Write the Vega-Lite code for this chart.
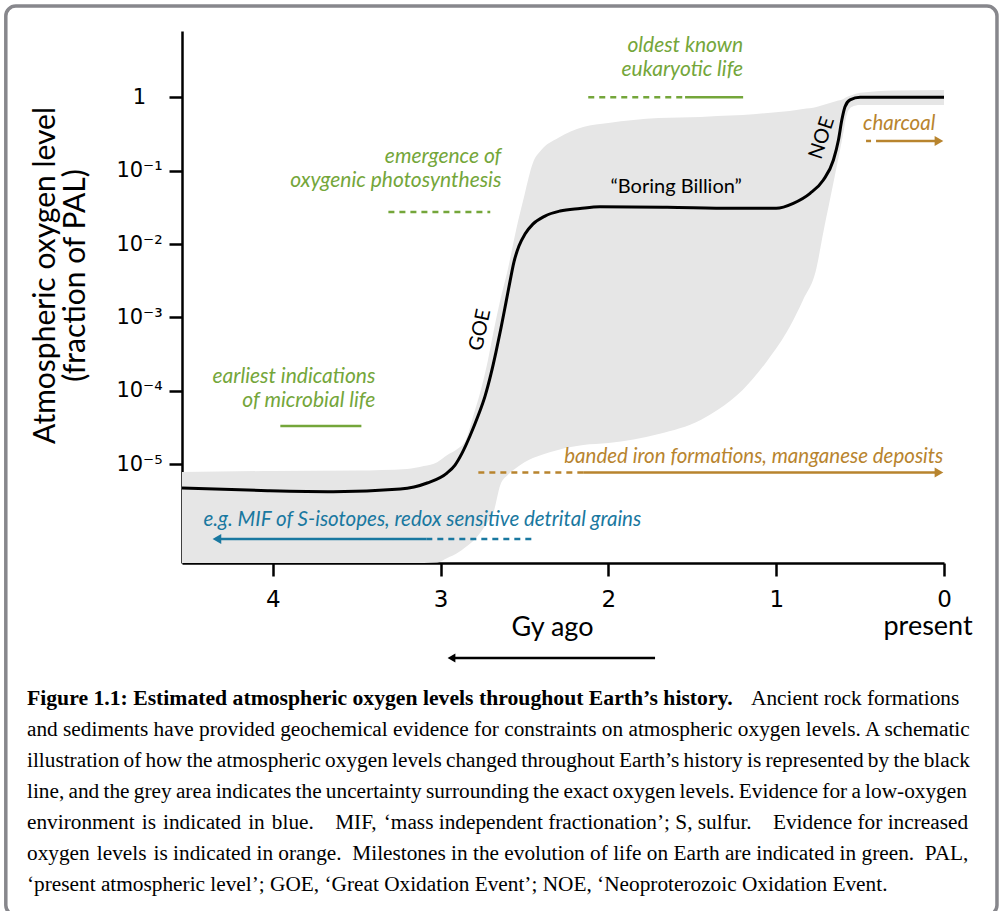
{
  "$schema": "https://vega.github.io/schema/vega-lite/v6.json",
  "width": 762,
  "height": 532,
  "autosize": {"type": "none"},
  "padding": {"left": 182, "top": 31, "right": 55, "bottom": 348},
  "background": "white",
  "config": {"view": {"stroke": null}},
  "title": {
    "text": "Figure 1.1: Estimated atmospheric oxygen levels throughout Earth’s history.",
    "subtitle": [
      "\u200b\u2003\u2003\u2003\u2003\u2003\u2003\u2003\u2003\u2003\u2003\u2003\u2003\u2003\u2003\u2003\u2003\u2003\u2003\u2003\u2003\u2003\u2003\u2003\u2003\u2003\u2003\u2003\u2003\u2003\u2003\u2003\u2003\u2003\u2003Ancient rock formations",
      "and sediments have provided geochemical evidence for constraints on atmospheric oxygen levels. A schematic",
      "illustration\u2009of\u2009how\u2009the\u2009atmospheric\u2009oxygen\u2009levels\u2009changed\u2009throughout\u2009Earth’s\u2009history\u2009is\u2009represented\u2009by\u2009the\u2009black",
      "line,\u2009and\u2009the\u2009grey\u2009area\u2009indicates\u2009the\u2009uncertainty\u2009surrounding\u2009the\u2009exact\u2009oxygen\u2009levels.\u2009Evidence\u2009for\u2009a\u2009low-oxygen",
      "environment\u2004is\u2004indicated\u2004in\u2004blue.\u2002\u2002MIF,\u2004‘mass independent fractionation’; S, sulfur.\u2002\u2002Evidence for increased",
      "oxygen\u2004levels\u2004is indicated in orange.\u2002Milestones in the evolution of life on Earth are indicated in green.\u2002PAL,",
      "‘present atmospheric level’; GOE, ‘Great Oxidation Event’; NOE, ‘Neoproterozoic Oxidation Event."
    ],
    "orient": "bottom",
    "anchor": "start",
    "frame": "group",
    "dx": -155,
    "offset": -229,
    "font": "Liberation Serif",
    "fontSize": 21.7,
    "fontWeight": "bold",
    "color": "black",
    "subtitleFont": "Liberation Serif",
    "subtitleFontSize": 21.3,
    "subtitleFontWeight": "normal",
    "subtitleColor": "black",
    "subtitleLineHeight": 31,
    "subtitlePadding": -21.7
  },
  "datasets": {
    "curve": [
      {"age": 0, "o2": 1.0},
      {"age": 0.25, "o2": 1.0},
      {"age": 0.5, "o2": 1.0},
      {"age": 0.56, "o2": 0.92},
      {"age": 0.59, "o2": 0.745},
      {"age": 0.609, "o2": 0.49},
      {"age": 0.629, "o2": 0.262},
      {"age": 0.659, "o2": 0.14},
      {"age": 0.719, "o2": 0.0746},
      {"age": 0.798, "o2": 0.0492},
      {"age": 0.898, "o2": 0.036},
      {"age": 1.0, "o2": 0.0308},
      {"age": 1.26, "o2": 0.0308},
      {"age": 1.65, "o2": 0.0317},
      {"age": 2.05, "o2": 0.0322},
      {"age": 2.169, "o2": 0.0305},
      {"age": 2.288, "o2": 0.0282},
      {"age": 2.378, "o2": 0.0241},
      {"age": 2.45, "o2": 0.0187},
      {"age": 2.497, "o2": 0.0137},
      {"age": 2.533, "o2": 0.0094},
      {"age": 2.563, "o2": 0.00569},
      {"age": 2.586, "o2": 0.00313},
      {"age": 2.61, "o2": 0.00162},
      {"age": 2.64, "o2": 0.000718},
      {"age": 2.67, "o2": 0.000338},
      {"age": 2.7, "o2": 0.000169},
      {"age": 2.735, "o2": 0.0000849},
      {"age": 2.777, "o2": 0.0000454},
      {"age": 2.825, "o2": 0.0000243},
      {"age": 2.872, "o2": 0.0000142},
      {"age": 2.914, "o2": 0.00000977},
      {"age": 2.962, "o2": 0.0000076},
      {"age": 3.08, "o2": 0.00000556},
      {"age": 3.24, "o2": 0.0000046},
      {"age": 3.64, "o2": 0.00000424},
      {"age": 4.03, "o2": 0.00000437},
      {"age": 4.541, "o2": 0.00000475}
    ],
    "band": [
      {"age": 0, "o2": 1.26, "o2_low": 0.785},
      {"age": 0.3, "o2": 1.24, "o2_low": 0.785},
      {"age": 0.5, "o2": 1.15, "o2_low": 0.785},
      {"age": 0.55, "o2": 1.07, "o2_low": 0.738},
      {"age": 0.58, "o2": 1.01, "o2_low": 0.574},
      {"age": 0.6, "o2": 0.948, "o2_low": 0.327},
      {"age": 0.64, "o2": 0.891, "o2_low": 0.112},
      {"age": 0.68, "o2": 0.836, "o2_low": 0.0399},
      {"age": 0.72, "o2": 0.785, "o2_low": 0.0142},
      {"age": 0.76, "o2": 0.738, "o2_low": 0.00472},
      {"age": 0.84, "o2": 0.692, "o2_low": 0.00173},
      {"age": 0.92, "o2": 0.65, "o2_low": 0.000743},
      {"age": 1.05, "o2": 0.611, "o2_low": 0.000264},
      {"age": 1.2, "o2": 0.574, "o2_low": 0.000103},
      {"age": 1.35, "o2": 0.556, "o2_low": 0.000055},
      {"age": 1.45, "o2": 0.54, "o2_low": 0.0000402},
      {"age": 1.7, "o2": 0.522, "o2_low": 0.0000259},
      {"age": 2.0, "o2": 0.447, "o2_low": 0.0000195},
      {"age": 2.15, "o2": 0.394, "o2_low": 0.0000183},
      {"age": 2.3, "o2": 0.279, "o2_low": 0.0000157},
      {"age": 2.4, "o2": 0.191, "o2_low": 0.0000134},
      {"age": 2.45, "o2": 0.127, "o2_low": 0.0000122},
      {"age": 2.5, "o2": 0.0467, "o2_low": 0.0000107},
      {"age": 2.55, "o2": 0.0156, "o2_low": 0.00000891},
      {"age": 2.6, "o2": 0.00444, "o2_low": 0.00000714},
      {"age": 2.644, "o2": 0.00174, "o2_low": 0.00000522},
      {"age": 2.686, "o2": 0.000615, "o2_low": 0.00000217},
      {"age": 2.72, "o2": 0.000248, "o2_low": 0.00000164},
      {"age": 2.76, "o2": 0.000103, "o2_low": 0.0000012},
      {"age": 2.8, "o2": 0.00005, "o2_low": 0.000000929},
      {"age": 2.85, "o2": 0.0000214, "o2_low": 0.000000746},
      {"age": 2.9, "o2": 0.0000161, "o2_low": 0.000000618},
      {"age": 2.96, "o2": 0.0000134, "o2_low": 0.000000528},
      {"age": 3.02, "o2": 0.0000107, "o2_low": 0.000000459},
      {"age": 3.1, "o2": 0.00000948, "o2_low": 0.000000452},
      {"age": 3.2, "o2": 0.00000863, "o2_low": 0.000000452},
      {"age": 3.5, "o2": 0.00000822, "o2_low": 0.000000452},
      {"age": 4.0, "o2": 0.00000811, "o2_low": 0.000000452},
      {"age": 4.541, "o2": 0.00000785, "o2_low": 0.000000452}
    ],
    "spans": [
      {"kind": "life", "evidence": "tentative", "age": 2.12, "age_end": 1.543, "o2": 1.0},
      {"kind": "life", "evidence": "established", "age": 1.543, "age_end": 1.197, "o2": 1.0},
      {"kind": "life", "evidence": "tentative", "age": 3.311, "age_end": 2.704, "o2": 0.0274},
      {"kind": "life", "evidence": "established", "age": 3.955, "age_end": 3.472, "o2": 0.0000333},
      {"kind": "oxic", "evidence": "tentative", "age": 0.4646, "age_end": 0.4348, "o2": 0.254},
      {"kind": "oxic", "evidence": "established", "age": 0.405, "age_end": 0.03, "o2": 0.254},
      {"kind": "oxic", "evidence": "tentative", "age": 2.775, "age_end": 2.15, "o2": 0.00000773},
      {"kind": "oxic", "evidence": "established", "age": 2.15, "age_end": 0.03, "o2": 0.00000773},
      {"kind": "anoxic", "evidence": "established", "age": 4.333, "age_end": 3.085, "o2": 0.00000096},
      {"kind": "anoxic", "evidence": "tentative", "age": 3.085, "age_end": 2.454, "o2": 0.00000096}
    ],
    "heads": [
      {"kind": "oxic", "direction": "toward present", "age": 0.03, "o2": 0.254},
      {"kind": "oxic", "direction": "toward present", "age": 0.03, "o2": 0.00000773},
      {"kind": "anoxic", "direction": "toward past", "age": 4.333, "o2": 0.00000096}
    ],
    "notes": [
      {"kind": "life", "text": "oldest known\neukaryotic life", "age": 1.197, "o2": 5.0},
      {"kind": "life", "text": "emergence of\noxygenic photosynthesis", "age": 2.638, "o2": 0.1537},
      {"kind": "life", "text": "earliest indications\nof microbial life", "age": 3.389, "o2": 0.0001546},
      {"kind": "oxic", "text": "charcoal", "age": 0.482, "o2": 0.431},
      {"kind": "oxic", "text": "banded iron formations, manganese deposits", "age": 2.263, "o2": 0.0000126},
      {"kind": "anoxic", "text": "e.g. MIF of S-isotopes, redox sensitive detrital grains", "age": 4.413, "o2": 0.00000174},
      {"kind": "event", "text": "“Boring Billion”", "age": 1.596, "o2": 0.06},
      {"kind": "event", "text": "GOE", "age": 2.764, "o2": 0.000676},
      {"kind": "event", "text": "NOE", "age": 0.727, "o2": 0.279}
    ]
  },
  "layer": [
    {
      "data": {"name": "band"},
      "mark": {"type": "area", "color": "#e6e6e6", "interpolate": "monotone"},
      "encoding": {
        "x": {
          "field": "age",
          "type": "quantitative",
          "scale": {"domain": [0, 4.541], "reverse": true, "nice": false, "zero": false},
          "axis": {
            "values": [0, 1, 2, 3, 4],
            "format": "d",
            "title": "Gy ago",
            "grid": false,
            "domainColor": "black",
            "domainWidth": 2.5,
            "tickColor": "black",
            "tickWidth": 2.5,
            "tickSize": 13,
            "labelFont": "DejaVu Sans",
            "labelFontSize": 23,
            "labelColor": "black",
            "labelPadding": 12,
            "labelFlush": false,
            "labelOverlap": false,
            "titleFont": "Lato",
            "titleFontSize": 27,
            "titleFontWeight": "normal",
            "titleColor": "black",
            "titleX": 370,
            "titleY": 64,
            "titleBaseline": "middle",
            "titleAlign": "center"
          }
        },
        "y": {
          "field": "o2",
          "type": "quantitative",
          "scale": {"type": "log", "domain": [0.000000452, 8.0], "nice": false},
          "axis": {
            "values": [0.00001, 0.0001, 0.001, 0.01, 0.1, 1],
            "labelExpr": "datum.value >= 0.5 ? '1' : '10⁻' + ['⁰','¹','²','³','⁴','⁵','⁶'][round(-log(datum.value)/LN10)]",
            "title": ["Atmospheric oxygen level", "(fraction of PAL)"],
            "grid": false,
            "domainColor": "black",
            "domainWidth": 2.5,
            "tickColor": "black",
            "tickWidth": 2.5,
            "tickSize": 13,
            "labelFont": "DejaVu Sans",
            "labelFontSize": 21,
            "labelColor": "black",
            "labelAlign": "center",
            "labelBaseline": "middle",
            "labelPadding": 30,
            "labelOverlap": false,
            "titleFont": "Lato",
            "titleFontSize": 30,
            "titleFontWeight": "normal",
            "titleColor": "black",
            "titleAngle": -90,
            "titleX": -137,
            "titleY": 244,
            "titleAlign": "center",
            "titleBaseline": "middle",
            "titleLineHeight": 30
          }
        },
        "y2": {"field": "o2_low"}
      }
    },
    {
      "data": {"values": [{"part": "figure frame"}]},
      "mark": {"type": "rect", "fill": "transparent", "stroke": "#87878c", "strokeWidth": 3.5, "cornerRadius": 10, "clip": false},
      "encoding": {
        "x": {"datum": 5.591, "type": "quantitative"},
        "x2": {"datum": -0.3157},
        "y": {"datum": 17.53, "type": "quantitative"},
        "y2": {"datum": 0.0000000000072}
      }
    },
    {
      "data": {"name": "curve"},
      "mark": {"type": "line", "color": "black", "strokeWidth": 3, "interpolate": "monotone"},
      "encoding": {
        "x": {"field": "age", "type": "quantitative"},
        "y": {"field": "o2", "type": "quantitative"}
      }
    },
    {
      "data": {"name": "spans"},
      "mark": {"type": "rule", "strokeWidth": 2.5},
      "encoding": {
        "x": {"field": "age", "type": "quantitative"},
        "x2": {"field": "age_end"},
        "y": {"field": "o2", "type": "quantitative"},
        "color": {"field": "kind", "type": "nominal", "scale": {"domain": ["life", "oxic", "anoxic", "event"], "range": ["#74a63a", "#b8842e", "#1978a0", "#000000"]}, "legend": null},
        "strokeDash": {"field": "evidence", "type": "nominal", "scale": {"domain": ["established", "tentative"], "range": [[1, 0], [6, 5]]}, "legend": null}
      }
    },
    {
      "data": {"name": "heads"},
      "mark": {"type": "point", "filled": true, "size": 100, "opacity": 1},
      "encoding": {
        "x": {"field": "age", "type": "quantitative"},
        "y": {"field": "o2", "type": "quantitative"},
        "color": {"field": "kind", "type": "nominal", "scale": {"domain": ["life", "oxic", "anoxic", "event"], "range": ["#74a63a", "#b8842e", "#1978a0", "#000000"]}, "legend": null},
        "shape": {"field": "direction", "type": "nominal", "scale": {"domain": ["toward present", "toward past"], "range": ["triangle-right", "triangle-left"]}, "legend": null}
      }
    },
    {
      "data": {"name": "notes"},
      "transform": [{"filter": "datum.kind == 'life'"}],
      "mark": {"type": "text", "align": "right", "baseline": "middle", "font": "Lato", "fontStyle": "italic", "fontSize": 21, "lineBreak": "\n", "lineHeight": 24.5},
      "encoding": {
        "x": {"field": "age", "type": "quantitative"},
        "y": {"field": "o2", "type": "quantitative"},
        "text": {"field": "text"},
        "color": {"field": "kind", "type": "nominal", "scale": {"domain": ["life", "oxic", "anoxic", "event"], "range": ["#74a63a", "#b8842e", "#1978a0", "#000000"]}, "legend": null}
      }
    },
    {
      "data": {"name": "notes"},
      "transform": [{"filter": "datum.kind == 'oxic'"}],
      "mark": {"type": "text", "align": "left", "baseline": "middle", "font": "Lato", "fontStyle": "italic", "fontSize": 20.5},
      "encoding": {
        "x": {"field": "age", "type": "quantitative"},
        "y": {"field": "o2", "type": "quantitative"},
        "text": {"field": "text"},
        "color": {"field": "kind", "type": "nominal", "scale": {"domain": ["life", "oxic", "anoxic", "event"], "range": ["#74a63a", "#b8842e", "#1978a0", "#000000"]}, "legend": null}
      }
    },
    {
      "data": {"name": "notes"},
      "transform": [{"filter": "datum.kind == 'anoxic'"}],
      "mark": {"type": "text", "align": "left", "baseline": "middle", "font": "Lato", "fontStyle": "italic", "fontSize": 20.5},
      "encoding": {
        "x": {"field": "age", "type": "quantitative"},
        "y": {"field": "o2", "type": "quantitative"},
        "text": {"field": "text"},
        "color": {"field": "kind", "type": "nominal", "scale": {"domain": ["life", "oxic", "anoxic", "event"], "range": ["#74a63a", "#b8842e", "#1978a0", "#000000"]}, "legend": null}
      }
    },
    {
      "data": {"name": "notes"},
      "transform": [{"filter": "datum.text == '“Boring Billion”'"}],
      "mark": {"type": "text", "align": "center", "baseline": "middle", "font": "Lato", "fontSize": 20, "color": "black"},
      "encoding": {
        "x": {"field": "age", "type": "quantitative"},
        "y": {"field": "o2", "type": "quantitative"},
        "text": {"field": "text"}
      }
    },
    {
      "data": {"name": "notes"},
      "transform": [{"filter": "datum.text == 'GOE'"}],
      "mark": {"type": "text", "align": "center", "baseline": "middle", "font": "Lato", "fontSize": 20, "color": "black", "angle": -78},
      "encoding": {
        "x": {"field": "age", "type": "quantitative"},
        "y": {"field": "o2", "type": "quantitative"},
        "text": {"field": "text"}
      }
    },
    {
      "data": {"name": "notes"},
      "transform": [{"filter": "datum.text == 'NOE'"}],
      "mark": {"type": "text", "align": "center", "baseline": "middle", "font": "Lato", "fontSize": 20, "color": "black", "angle": -72},
      "encoding": {
        "x": {"field": "age", "type": "quantitative"},
        "y": {"field": "o2", "type": "quantitative"},
        "text": {"field": "text"}
      }
    },
    {
      "data": {"values": [{"label": "present"}]},
      "mark": {"type": "text", "font": "Lato", "fontSize": 27, "align": "center", "baseline": "middle", "dy": 64, "color": "black", "clip": false},
      "encoding": {"text": {"field": "label"}, "x": {"datum": 0.095, "type": "quantitative"}, "y": {"datum": 0.000000452, "type": "quantitative"}}
    },
    {
      "data": {"values": [{"part": "time arrow"}]},
      "mark": {"type": "rule", "color": "black", "strokeWidth": 2.5, "yOffset": 95, "clip": false},
      "encoding": {"x": {"datum": 1.722, "type": "quantitative"}, "x2": {"datum": 2.932}, "y": {"datum": 0.000000452, "type": "quantitative"}}
    },
    {
      "data": {"values": [{"part": "time arrow head"}]},
      "mark": {"type": "point", "shape": "triangle-left", "filled": true, "size": 80, "color": "black", "opacity": 1, "yOffset": 95, "clip": false},
      "encoding": {"x": {"datum": 2.935, "type": "quantitative"}, "y": {"datum": 0.000000452, "type": "quantitative"}}
    }
  ]
}
